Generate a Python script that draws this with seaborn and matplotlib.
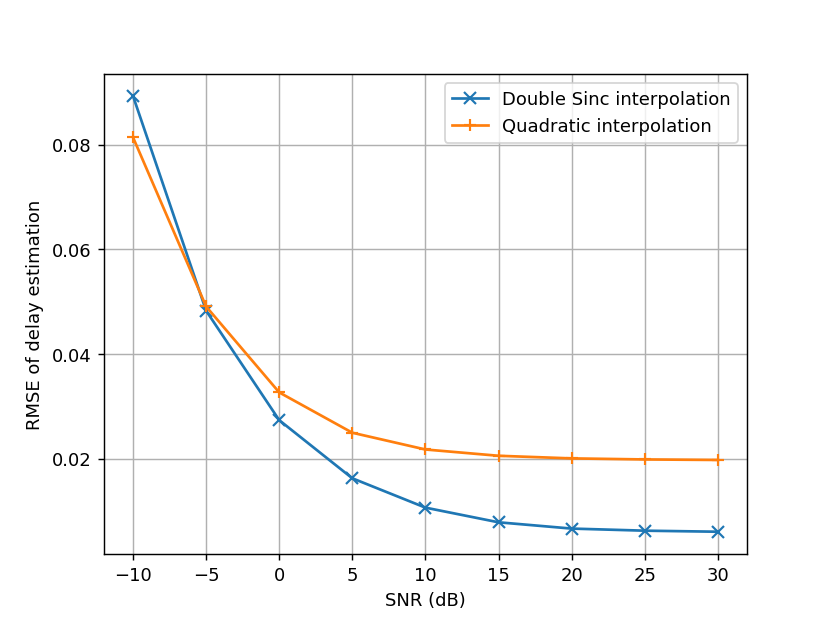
import numpy as np
import pandas as pd
import seaborn as sns
import matplotlib
matplotlib.use("Agg")
import matplotlib.pyplot as plt

# data
snr_db = [-10, -5, 0, 5, 10, 15, 20, 25, 30]
rmse_double_sinc = [0.0893, 0.0483, 0.0274, 0.0163, 0.0107, 0.0079, 0.0067, 0.0063, 0.0061]
rmse_quadratic = [0.0814, 0.0491, 0.0327, 0.0250, 0.0218, 0.0206, 0.0201, 0.0199, 0.0198]

series = [
    ("Double Sinc interpolation", rmse_double_sinc, "x", "#1f77b4"),
    ("Quadratic interpolation", rmse_quadratic, "+", "#ff7f0e"),
]

fig, ax = plt.subplots(figsize=(6.4, 4.8), dpi=129.7)

for label, values, mk, col in series:
    sns.lineplot(x=snr_db, y=values, label=label, marker=mk, color=col,
                 markeredgecolor=col, markersize=6.5, markeredgewidth=1.2,
                 linewidth=1.5, ax=ax)

ax.grid(True, color="#b0b0b0", linewidth=0.8)
ax.set_xticks([-10, -5, 0, 5, 10, 15, 20, 25, 30])
ax.set_yticks([0.02, 0.04, 0.06, 0.08])
ax.set_xlabel("SNR (dB)")
ax.set_ylabel("RMSE of delay estimation")
ax.legend(loc="upper right")

fig.savefig("out.png", dpi=129.7)
